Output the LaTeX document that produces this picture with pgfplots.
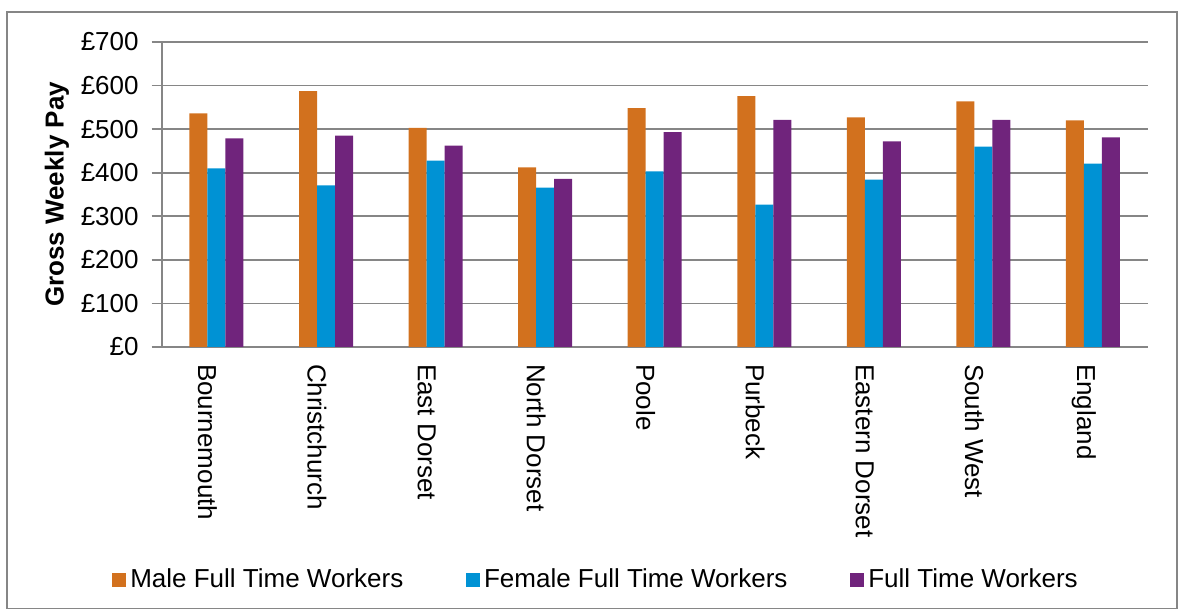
\documentclass[border=0pt]{standalone}
\usepackage{fontspec}
\setmainfont{Liberation Sans}
\usepackage{pgfplots}
\pgfplotsset{compat=1.18}
\definecolor{cM}{HTML}{D2711E}
\definecolor{cF}{HTML}{0092D4}
\definecolor{cA}{HTML}{70247C}
\definecolor{gridc}{HTML}{868686}
\begin{document}
\begin{tikzpicture}
\useasboundingbox (-80.85pt,-131.5pt) rectangle (509.15pt,173.5pt);
\draw[gridc, line width=0.9pt] (-77.35pt,-130.75pt) rectangle (507.65pt,167.5pt);
\begin{axis}[
 at={(0,0)}, anchor=south west, scale only axis,
 width=493pt, height=152.5pt,
 ybar=0pt, bar width=9pt,
 xmin=-0.5, xmax=8.5, ymin=0, ymax=700,
 ytick={0,100,...,700},
 xtick={0,1,...,8},
 xticklabels={Bournemouth,Christchurch,East Dorset,North Dorset,Poole,Purbeck,Eastern Dorset,South West,England},
 axis x line=bottom, axis y line=left,
 axis line style={-, gridc, line width=0.9pt},
 ymajorgrids, grid style={gridc, line width=0.9pt},
 x tick style={draw=none}, y tick style={gridc, line width=0.9pt},
 tick align=outside, major tick length=5pt,
 /pgf/number format/assume math mode=true,
 yticklabel={£\pgfmathprintnumber{\tick}},
 tick label style={font=\fontsize{13}{15}\selectfont, black},
 yticklabel style={xshift=-3pt},
 xticklabel style={rotate=-90, anchor=west, yshift=-4.5pt},
 ylabel={Gross Weekly Pay},
 every axis y label/.style={at={(axis description cs:0,0.5)}, xshift=-52.35pt, rotate=90, anchor=center, font=\bfseries\fontsize{13}{15}\selectfont},
 legend style={at={(axis description cs:0.4415,-0.764)}, anchor=center, draw=none, fill=none, legend columns=3, font=\fontsize{13}{15}\selectfont, /tikz/every even column/.append style={column sep=29pt}, nodes={inner sep=2.2pt}},
 legend image code/.code={\fill[#1] (0pt,-3.5pt) rectangle (7pt,3.5pt);},
]
\addplot[fill=cM, draw=none] coordinates {(0,536) (1,587) (2,503) (3,412) (4,548) (5,576) (6,527) (7,564) (8,520)};
\addplot[fill=cF, draw=none] coordinates {(0,410) (1,371) (2,428) (3,366) (4,403) (5,327) (6,384) (7,460) (8,421)};
\addplot[fill=cA, draw=none] coordinates {(0,479) (1,485) (2,462) (3,386) (4,493) (5,521) (6,472) (7,521) (8,481)};
\legend{Male Full Time Workers, Female Full Time Workers, Full Time Workers}
\end{axis}
\end{tikzpicture}
\end{document}
